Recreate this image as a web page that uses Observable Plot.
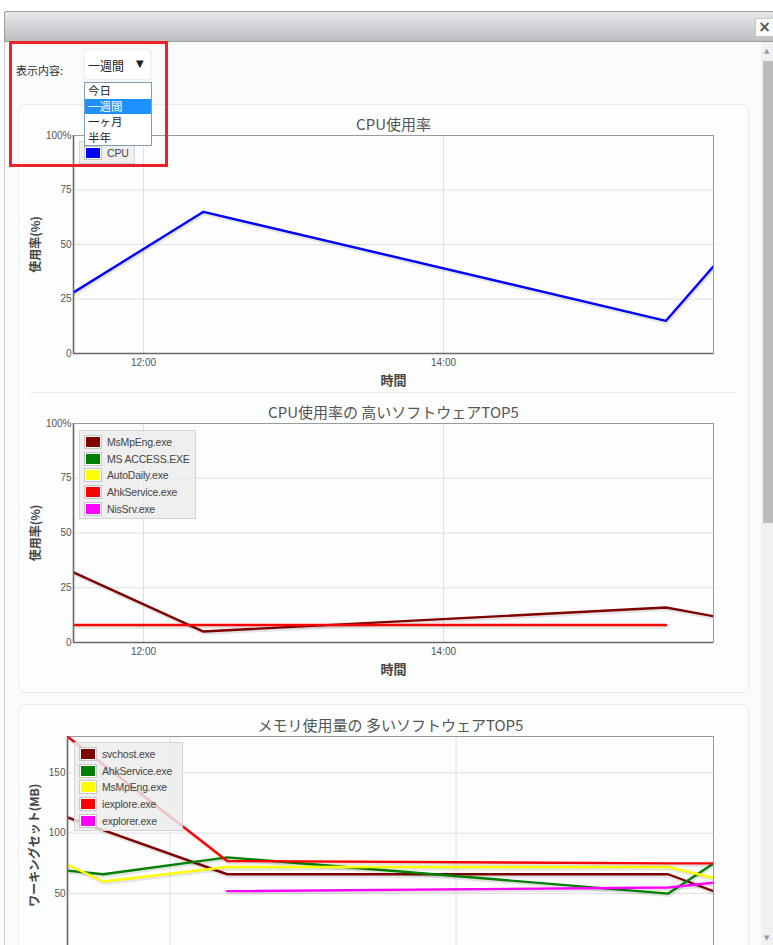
<!DOCTYPE html>
<html><head><meta charset="utf-8">
<script src="https://cdn.jsdelivr.net/npm/d3@7"></script>
<script src="https://cdn.jsdelivr.net/npm/@observablehq/plot@0.6"></script>
<style>
body{margin:0;width:773px;height:945px;overflow:hidden;position:relative;background:#fff;font-family:"Noto Sans CJK JP","Noto Sans",sans-serif;}
.abs{position:absolute;}
#titlebar{left:4px;top:11px;width:769px;height:31px;background:linear-gradient(#e7e8ea,#bcbec2);border:1px solid #9a9da1;border-right:none;box-sizing:border-box;border-radius:3px 0 0 0;}
#close{left:755px;top:18px;width:18px;height:19px;background:#fafafa;border:1px solid #c8c8c8;border-right:none;box-sizing:border-box;font:bold 15px "DejaVu Sans";color:#555;line-height:16px;text-align:center;}
#content{left:4px;top:42px;width:769px;height:903px;background:#fafbfb;border-left:1px solid #c9cbcd;box-sizing:border-box}
#track{left:761px;top:42px;width:12px;height:903px;background:#f1f1f1}
#thumb{left:763px;top:61px;width:10px;height:462px;background:#bcbcbc}
.arrow{position:absolute;left:764px;font-size:7px;color:#999;font-family:"DejaVu Sans"}
.panel{position:absolute;left:18px;width:731px;border:1px solid #e9ebeb;border-radius:7px;background:#fcfdfd;box-sizing:border-box}
#sep{left:30px;top:392px;width:707px;height:1px;background:#eceeee}
#redbox{left:9px;top:41px;width:159px;height:126px;border:3px solid #e8242a;box-sizing:border-box;z-index:10}
#lbl{left:16px;top:62px;font-size:11px;color:#333;z-index:11}
#select{left:84px;top:49px;width:67px;height:31px;background:#fff;border:1px solid #eee;border-radius:3px;box-shadow:0 0 2px #e2e2e2;box-sizing:border-box;z-index:11;font-size:12px;color:#222}
#select span.v{position:absolute;left:3px;top:7px}
#select span.a{position:absolute;left:51px;top:8px;font-size:10px;font-family:"DejaVu Sans"}
#drop{left:84px;top:82px;width:68px;height:64px;background:#fff;border:1px solid #7f9db9;box-sizing:border-box;z-index:11}
#drop div{height:15.5px;line-height:15.5px;font-size:11.5px;padding-left:3px;color:#222}
#drop div.sel{background:#1e90ff;color:#fff}
.chart{position:absolute;left:0;width:735px}
.legend{position:absolute;background:rgba(236,236,236,0.82);border:1px solid #d4d4d4;box-sizing:border-box;z-index:5;padding-top:3px}
.legend .row{height:16.6px;display:flex;align-items:center;font-family:"Liberation Sans",sans-serif;font-size:10.5px;color:#444;letter-spacing:-0.2px}
.legend .sw{width:14px;height:10px;border:1px solid #fff;outline:1px solid #c8c8c8;margin:0 6px 0 5px}
</style></head>
<body>
<div id="titlebar" class="abs"></div>
<div id="close" class="abs">×</div>
<div id="content" class="abs"></div>
<div id="track" class="abs"></div>
<div id="thumb" class="abs"></div>
<div class="arrow" style="top:47px">▲</div>
<div class="arrow" style="top:934px">▼</div>
<div class="panel" style="top:104px;height:589px"></div>
<div id="sep" class="abs"></div>
<div class="panel" style="top:704px;height:300px"></div>
<div id="redbox" class="abs"></div>
<div id="lbl" class="abs">表示内容:</div>
<div id="select" class="abs"><span class="v"></span><span class="a">▼</span></div>
<div id="drop" class="abs"></div>
<div id="charts"></div>
<script>
// ---- data ----
const periodOptions = ["今日", "一週間", "一ヶ月", "半年"];
const selectedPeriod = "一週間";

const chartTitles = ["CPU使用率", "CPU使用率の 高いソフトウェアTOP5", "メモリ使用量の 多いソフトウェアTOP5"];
const xAxisLabel = "時間";
const yAxisLabels = ["使用率(%)", "使用率(%)", "ワーキングセット(MB)"];
const xTickLabels = ["12:00", "14:00"];
const pctTicks = [0, 25, 50, 75, 100];
const memTicks = [50, 100, 150];

const cpuTimes = ["11:32", "12:24", "15:29", "15:48"];
const cpuNames = ["CPU"];
const cpuColors = ["#0000ff"];
const cpuUsage = [28, 65, 15, 40];

const topCpuNames = ["MsMpEng.exe", "MS ACCESS.EXE", "AutoDaily.exe", "AhkService.exe", "NisSrv.exe"];
const topCpuColors = ["#800000", "#008000", "#ffff00", "#ff0000", "#ff00ff"];
const msMpEngCpu = [32, 5, 16, 12];
const msAccessCpu = [null, null, null, null];
const autoDailyCpu = [null, null, null, null];
const ahkServiceCpu = [8, 8, 8, null];
const nisSrvCpu = [null, null, null, null];

const memTimes = ["11:17", "11:32", "12:24", "15:29", "15:48"];
const memNames = ["svchost.exe", "AhkService.exe", "MsMpEng.exe", "iexplore.exe", "explorer.exe"];
const memColors = ["#800000", "#008000", "#ffff00", "#ff0000", "#ff00ff"];
const svchostMem = [113, null, 66, 66, 52];
const ahkServiceMem = [69, 66, 80, 50, 75];
const msMpEngMem = [74, 60, 72, 72, 63];
const iexploreMem = [180, null, 77, 75, 75];
const explorerMem = [null, null, 52, 55, 59];

// ---- ui ----
document.querySelector("#select .v").textContent = selectedPeriod;
const drop = document.getElementById("drop");
periodOptions.forEach(o => {
  const d = document.createElement("div");
  d.textContent = o;
  if (o === selectedPeriod) d.className = "sel";
  drop.appendChild(d);
});

const parseT = d3.timeParse("%H:%M");
const fmt = d3.timeFormat("%H:%M");
const xTicks = xTickLabels.map(parseT);
const tickFont = "Liberation Sans, DejaVu Sans, sans-serif";
const cjkFont = "Noto Sans CJK JP, sans-serif";

function rows(times, values) {
  return times.map((t, i) => ({time: parseT(t), value: values[i]})).filter(d => d.value != null);
}

function makeChart(cfg) {
  const {top, height, marginLeft, marginTop, marginBottom, times, yDomain, yTicks, yFmt, series, title, yLabel, xLabelDy, yLabelDx, showXAxis} = cfg;
  const x0 = parseT(times[0]);
  const marks = [
    Plot.frame({fill: "#fdfdfd", stroke: null}),
    Plot.gridY(yTicks, {stroke: "#dedede", strokeOpacity: 1}),
    Plot.gridX(xTicks, {stroke: "#dedede", strokeOpacity: 1}),
    Plot.frame({stroke: "#9a9a9a"})
  ];
  series.forEach(s => {
    marks.push(Plot.line(s.rows, {x: "time", y: "value", stroke: "#000", strokeOpacity: 0.1, strokeWidth: 3, dx: 1, dy: 2, clip: true}));
    marks.push(Plot.line(s.rows, {x: "time", y: "value", stroke: s.color, strokeWidth: 2.4, clip: true}));
  });
  marks.push(
    Plot.ruleX([x0], {stroke: "#6a6a6a", strokeWidth: 1.6}),
    Plot.ruleY([yDomain[0]], {stroke: "#6a6a6a", strokeWidth: 1.6}),
    Plot.axisY(yTicks, {tickSize: 0, tickPadding: 2, tickFormat: yFmt, fontSize: 10, fill: "#555", fontFamily: tickFont, label: null}),
    Plot.text([title], {text: d => d, frameAnchor: "top", lineAnchor: "middle", dy: -10, fontSize: 15, fill: "#555", fontFamily: cjkFont}),
    Plot.text([yLabel], {text: d => d, frameAnchor: "left", textAnchor: "middle", lineAnchor: "middle", dx: yLabelDx, rotate: -90, fontSize: 12, fontWeight: "bold", fill: "#444", fontFamily: cjkFont})
  );
  if (showXAxis) {
    marks.push(
      Plot.axisX(xTicks, {tickSize: 0, tickPadding: 5, tickFormat: fmt, fontSize: 10, fill: "#555", fontFamily: tickFont, label: null}),
      Plot.text([xAxisLabel], {text: d => d, frameAnchor: "bottom", lineAnchor: "middle", dy: xLabelDy, fontSize: 13, fontWeight: "bold", fill: "#444", fontFamily: cjkFont})
    );
  }
  const svg = Plot.plot({
    width: 735, height, marginLeft, marginRight: 22, marginTop, marginBottom,
    x: {type: "time", domain: [x0, parseT(times[times.length - 1])], axis: null},
    y: {domain: yDomain, axis: null},
    style: {background: "transparent", overflow: "visible", fontFamily: tickFont},
    marks
  });
  const div = document.createElement("div");
  div.className = "chart";
  div.style.top = top + "px";
  div.appendChild(svg);
  document.getElementById("charts").appendChild(div);
}

function makeLegend(names, colors, left, top, width) {
  const lg = document.createElement("div");
  lg.className = "legend";
  lg.style.left = left + "px";
  lg.style.top = top + "px";
  lg.style.width = width + "px";
  lg.style.height = (names.length * 16.6 + 6) + "px";
  names.forEach((n, i) => {
    const r = document.createElement("div");
    r.className = "row";
    const sw = document.createElement("span");
    sw.className = "sw";
    sw.style.background = colors[i];
    const t = document.createElement("span");
    t.textContent = n;
    r.appendChild(sw); r.appendChild(t);
    lg.appendChild(r);
  });
  document.body.appendChild(lg);
}

const pctFmt = d => d === 100 ? "100%" : String(d);

makeChart({
  top: 105, height: 290, marginLeft: 73, marginTop: 30, marginBottom: 42,
  times: cpuTimes, yDomain: [0, 100], yTicks: pctTicks, yFmt: pctFmt,
  series: cpuNames.map((n, i) => ({color: cpuColors[i], rows: rows(cpuTimes, cpuUsage)})),
  title: chartTitles[0], yLabel: yAxisLabels[0], xLabelDy: 27, yLabelDx: -37, showXAxis: true
});

const topCpuValues = [msMpEngCpu, msAccessCpu, autoDailyCpu, ahkServiceCpu, nisSrvCpu];
makeChart({
  top: 393, height: 295, marginLeft: 73, marginTop: 30, marginBottom: 46,
  times: cpuTimes, yDomain: [0, 100], yTicks: pctTicks, yFmt: pctFmt,
  series: topCpuNames.map((n, i) => ({color: topCpuColors[i], rows: rows(cpuTimes, topCpuValues[i])})),
  title: chartTitles[1], yLabel: yAxisLabels[1], xLabelDy: 27, yLabelDx: -37, showXAxis: true
});

const memValues = [svchostMem, ahkServiceMem, msMpEngMem, iexploreMem, explorerMem];
makeChart({
  top: 706, height: 260, marginLeft: 67, marginTop: 30, marginBottom: 12.5,
  times: memTimes, yDomain: [0, 180], yTicks: memTicks, yFmt: d => String(d),
  series: memNames.map((n, i) => ({color: memColors[i], rows: rows(memTimes, memValues[i])})),
  title: chartTitles[2], yLabel: yAxisLabels[2], xLabelDy: null, yLabelDx: -32, showXAxis: false
});

makeLegend(cpuNames, cpuColors, 79, 141, 56);
makeLegend(topCpuNames, topCpuColors, 79, 430, 117);
makeLegend(memNames, memColors, 74, 742, 109);
</script>
</body></html>
